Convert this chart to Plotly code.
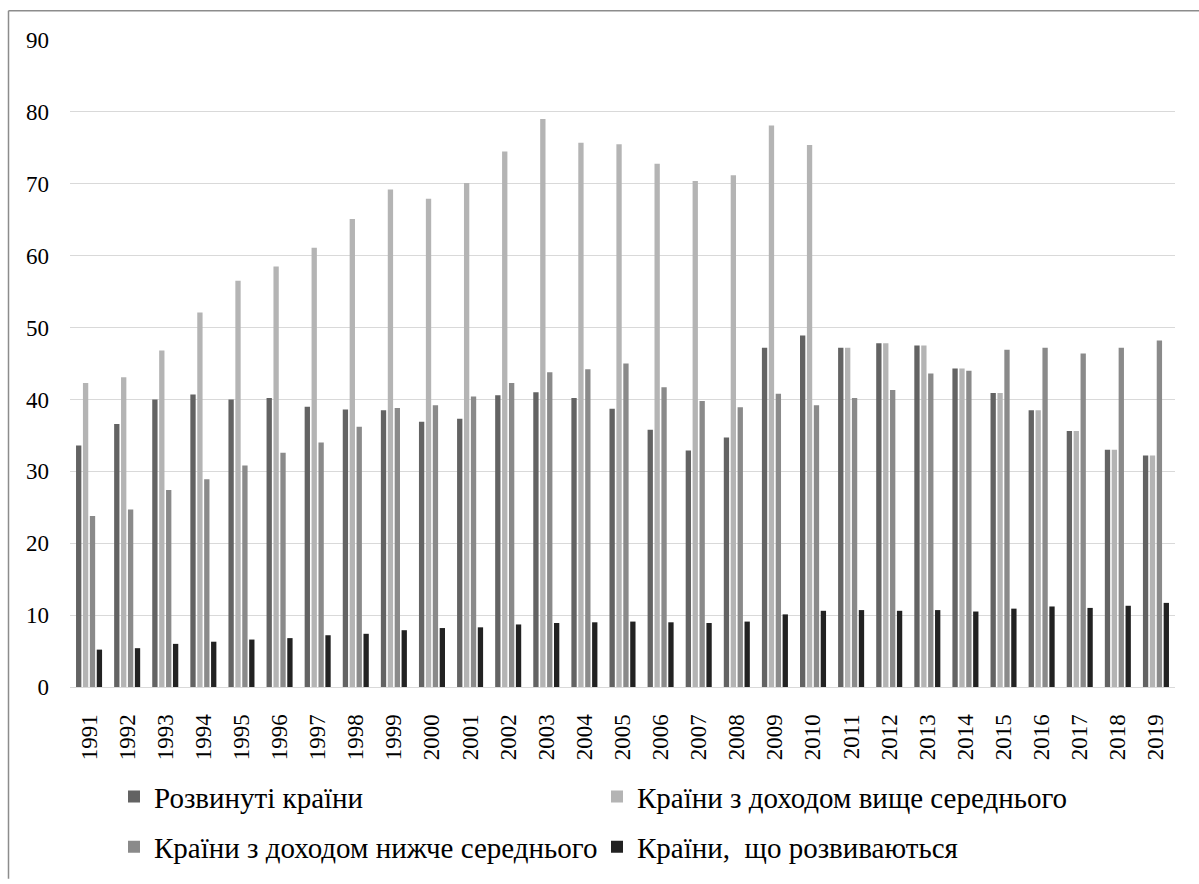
import plotly.graph_objects as go

years = [str(y) for y in range(1991, 2020)]

developed = [33.6, 36.6, 40.0, 40.7, 40.0, 40.2, 39.0, 38.6, 38.5, 36.9,
             37.3, 40.6, 41.0, 40.2, 38.7, 35.8, 32.9, 34.7, 47.2, 48.9,
             47.2, 47.8, 47.5, 44.3, 40.9, 38.5, 35.6, 33.0, 32.2]
upper_middle = [42.3, 43.1, 46.8, 52.1, 56.5, 58.5, 61.1, 65.1, 69.2, 67.9,
                70.1, 74.5, 79.0, 75.7, 75.5, 72.8, 70.4, 71.2, 78.1, 75.4,
                47.2, 47.8, 47.5, 44.3, 40.9, 38.5, 35.6, 33.0, 32.2]
lower_middle = [23.8, 24.7, 27.4, 28.9, 30.8, 32.6, 34.0, 36.2, 38.8, 39.2,
                40.4, 42.3, 43.8, 44.2, 45.0, 41.7, 39.8, 38.9, 40.8, 39.2,
                40.2, 41.3, 43.6, 44.0, 46.9, 47.2, 46.4, 47.2, 48.2]
developing = [5.2, 5.4, 6.0, 6.3, 6.6, 6.8, 7.2, 7.4, 7.9, 8.2,
              8.3, 8.7, 8.9, 9.0, 9.1, 9.0, 8.9, 9.1, 10.1, 10.6,
              10.7, 10.6, 10.7, 10.5, 10.9, 11.2, 11.0, 11.3, 11.7]

names = ["Розвинуті країни", "Країни з доходом вище середнього",
         "Країни з доходом нижче середнього", "Країни,  що розвиваються"]
colors = ["#636363", "#b4b4b4", "#8a8a8a", "#222222"]
legend_ids = ["legend", "legend", "legend2", "legend2"]
series = [developed, upper_middle, lower_middle, developing]

FONT = "Times New Roman"
W, H = 1199, 884
L, R, T, B = 70, 24, 40, 189
PW, PH = W - L - R, H - T - B

fig = go.Figure()
for name, vals, col, lg in zip(names, series, colors, legend_ids):
    fig.add_trace(go.Bar(x=years, y=vals, name=name, marker_color=col,
                         marker_line_width=0, legend=lg))

def px_x(p):
    return (p - L) / PW

def px_y(p):
    return (H - B - p) / PH

legend_common = dict(orientation="h", xanchor="left", yanchor="middle",
                     entrywidth=438, font=dict(family=FONT, size=29, color="black"),
                     bgcolor="rgba(0,0,0,0)", itemclick=False, traceorder="normal")

border = dict(color="#8c8c8c", width=1.5)

fig.update_layout(
    width=W, height=H,
    margin=dict(l=L, r=R, t=T, b=B),
    paper_bgcolor="white", plot_bgcolor="white",
    barmode="group", bargap=0.275, bargroupgap=0.23,
    font=dict(family=FONT, size=23, color="black"),
    legend=dict(x=px_x(114), y=px_y(806), **legend_common),
    legend2=dict(x=px_x(114), y=px_y(857), **legend_common),
    xaxis=dict(type="category", tickangle=-90, showgrid=False,
               showline=True, linecolor="#d9d9d9", linewidth=1,
               ticks="", tickfont=dict(family=FONT, size=23, color="black"),
               ticklabelstandoff=17),
    yaxis=dict(range=[0, 90], dtick=10, showgrid=True, gridcolor="#d9d9d9",
               gridwidth=1, zeroline=False, showline=False, ticks="",
               tickfont=dict(family=FONT, size=23, color="black"),
               ticklabelstandoff=20),
    shapes=[
        dict(type="line", xref="paper", yref="paper",
             x0=px_x(8.5), x1=px_x(W + 5), y0=px_y(10.5), y1=px_y(10.5),
             line=border, layer="below"),
        dict(type="line", xref="paper", yref="paper",
             x0=px_x(8.5), x1=px_x(8.5), y0=px_y(10.5), y1=px_y(H + 5),
             line=border, layer="below"),
    ],
)

fig.write_html("out.html", config={"displayModeBar": False},
               post_script="document.body.style.margin='0';")
